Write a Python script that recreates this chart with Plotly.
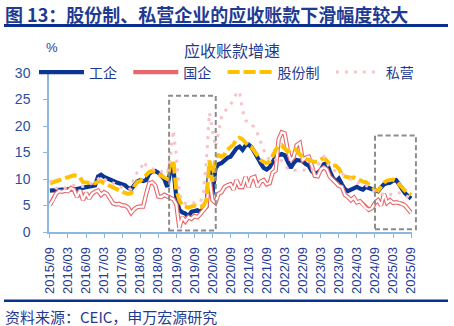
import plotly.graph_objects as go
import pandas as pd

months = pd.date_range("2015-09-01", "2025-09-01", freq="MS").strftime("%Y/%m").tolist()
tick_labels = months[::6]

gongqi = [7.8, 7.9, 7.9, 8.0, 8.0, 8.0, 8.1, 8.1, 8.0, 8.1,
          8.2, 8.5, 8.5, 8.5, 8.6, 8.8,
          10.5, 10.8, 10.4, 10.1, 10.0,
          9.6, 9.4, 9.2, 9.0, 8.8, 8.3, 8.1,
          8.8, 9.5, 9.8, 9.6, 9.8,
          11.0, 11.4, 11.5, 11.2, 10.5, 10.0, 8.5,
          11.5, 12.1, 6.5, 4.2, 3.7, 3.5, 2.9, 3.8, 4.0, 4.1, 3.8, 4.3, 4.8,
          12.3, 7.0, 12.0, 12.8, 13.0, 13.5, 14.0, 14.2,
          15.2, 15.8, 16.1, 15.5, 16.3, 16.5, 16.0, 14.8, 14.0, 13.0,
          12.1, 11.8, 12.2, 13.2, 14.2, 14.5, 14.7, 14.5, 13.2, 12.1,
          13.0, 13.6, 13.5, 13.4, 12.8, 12.5, 11.5, 11.0, 11.2, 11.7,
          12.8, 13.0, 11.5, 10.2, 9.5, 10.1, 9.0, 8.1, 7.7, 8.0,
          8.3, 8.5, 8.2, 8.0, 8.5, 8.3, 8.0, 8.0, 7.7, 8.4,
          9.0, 9.2, 9.3, 9.7, 9.8, 9.0, 8.0, 7.3, 6.8, 6.3]

guoqi = [5.1, 6.0, 7.2, 7.7, 7.6, 7.8, 7.7, 8.3, 8.0, 6.6,
         7.9, 6.0, 7.4, 6.3, 7.2, 7.6, 7.8, 7.0, 7.5, 7.2,
         6.3, 5.4, 5.2, 5.3, 5.0, 5.0, 4.6, 3.6, 4.3, 4.7,
         4.8, 4.8, 7.2, 9.2, 9.4, 8.8, 6.7, 6.6, 7.0, 6.7,
         6.5, 6.2, 5.2, 0.8, 2.8, 2.0, 2.8, 2.5, 3.0, 2.8,
         3.4, 4.2, 4.8, 10.2, 6.0, 5.5, 7.2, 7.5, 8.5, 8.8,
         9.0, 8.0, 9.8, 8.5, 8.5, 10.4, 8.5, 10.2, 10.4, 8.5,
         9.5, 9.8, 9.0, 9.2, 11.2, 11.6, 17.5, 18.8, 18.6, 15.5,
         13.5, 14.2, 16.4, 16.8, 13.6, 14.0, 14.2, 12.5, 10.6, 10.5,
         11.8, 12.2, 11.8, 10.4, 9.8, 9.3, 8.7, 8.5, 7.0, 6.6,
         6.0, 6.5, 5.6, 5.8, 5.2, 4.5, 4.2, 4.5, 5.5, 6.0,
         5.0, 7.2, 5.5, 6.0, 5.5, 5.6, 5.5, 5.3, 5.0, 4.3, 3.6]

gufen = [9.2, 9.4, 9.6, 9.8, 10.0, 10.2, 10.4, 10.6, 10.7, 10.6,
         10.3, 9.4, 9.3, 9.3, 9.3, 9.2, 9.5, 9.6, 9.2, 8.9,
         8.8, 8.5, 8.2, 7.9, 7.6, 7.4, 7.2, 7.3, 8.6, 9.4,
         9.6, 10.2, 10.8, 11.3, 11.5, 11.3, 10.9, 10.6, 10.4, 10.0,
         12.8, 13.6, 8.0, 6.0, 5.0, 4.8, 4.6, 4.8, 5.0, 4.8,
         4.7, 5.0, 6.0, 13.5, 9.5, 14.0, 14.5, 14.2, 14.6, 15.5,
         16.1, 16.5, 17.5, 17.8, 17.5, 16.8, 16.2, 16.0, 15.2, 14.2,
         13.6, 13.2, 13.0, 13.3, 14.5, 15.5, 16.2, 16.4, 15.8, 15.2,
         15.5, 15.8, 15.4, 14.6, 14.0, 13.8, 13.6, 13.4, 13.2, 13.3,
         13.7, 14.0, 13.4, 12.8, 12.6, 12.5, 12.0, 10.8, 10.5, 10.3,
         10.2, 10.3, 10.0, 9.6, 9.5, 9.4, 8.9, 8.3, 8.0, 7.8,
         8.6, 9.3, 9.7, 9.8, 9.9, 9.6, 8.9, 8.4, 7.8, 7.5, 7.0]

siying = [9.8, 9.0, 8.3, 8.1, 8.1, 8.3, 8.5, 8.6, 8.8, 8.7,
          8.6, 8.6, 8.7, 9.0, 9.2, 9.4, 10.0, 10.5, 10.0, 9.6,
          9.5, 9.3, 9.0, 8.7, 8.4, 8.2, 8.0, 8.2, 10.5, 11.2,
          11.5, 13.3, 12.6, 12.3, 12.0, 11.7, 11.8, 11.4, 11.2, 11.0,
          14.0, 19.2, 14.5, 7.5, 5.6, 5.4, 5.2, 5.3, 5.5, 5.4,
          5.6, 7.5, 13.6, 22.5, 19.0, 16.0, 18.6, 21.7, 22.7, 23.3,
          24.0, 25.0, 26.2, 26.5, 23.0, 21.1, 20.6, 20.5, 19.5, 18.5,
          17.0, 15.5, 14.5, 13.5, 13.3, 13.6, 14.2, 13.5, 12.6, 12.0,
          11.7, 11.6, 11.7, 11.8, 11.7, 11.7, 11.5, 11.6, 12.3, 12.5,
          13.5, 14.2, 13.0, 12.2, 11.7, 11.5, 11.3, 11.1, 10.5, 10.2,
          10.0, 9.7, 9.5, 9.0, 8.9, 8.8, 8.5, 7.9, 7.5, 7.3,
          7.2, 7.1, 7.3, 7.2, 7.0, 7.2, 7.4, 7.2, 6.9, 6.6, 6.4]

# highlighted periods (category index range, y range)
box_periods = [(39.6, 55.1, 0.3, 25.7), (108.0, 121.6, 0.5, 18.2)]

W, H = 454, 326
ML, MR, MT, MB = 49, 42, 73, 94
PW, PH = W - ML - MR, H - MT - MB
XR = [-0.3, 120.3]
YR = [0, 30]

def px2x(px):
    return (px - ML) / PW

def py2y(py):
    return (H - MB - py) / PH

def idx2x(i):
    return (i - XR[0]) / (XR[1] - XR[0])

def val2y(v):
    return (v - YR[0]) / (YR[1] - YR[0])

DARK = "#1f3a93"
AXIS = "#8db6e2"
FONT = "Liberation Sans, Noto Sans CJK SC, sans-serif"
PAD = "\u00a0\u00a0"

fig = go.Figure()
fig.add_trace(go.Scatter(x=months, y=gongqi, name="工企" + PAD, mode="lines",
                         line=dict(color="#0b3592", width=4.2)))
fig.add_trace(go.Scatter(x=months, y=guoqi, name="国企" + PAD, mode="lines",
                         line=dict(color="#e8676d", width=4.4)))
fig.add_trace(go.Scatter(x=months, y=guoqi, name="国企", mode="lines", showlegend=False,
                         line=dict(color="white", width=2.2)))
fig.add_trace(go.Scatter(x=months, y=gufen, name="股份制" + PAD, mode="lines",
                         line=dict(color="#ffc000", width=4, dash="12px,4px")))
fig.add_trace(go.Scatter(x=months, y=siying, name="私营", mode="lines",
                         line=dict(color="#f6c4c8", width=3, dash="3px,6px")))

shapes = []
for x0, x1, y0, y1 in box_periods:
    shapes.append(dict(type="rect", xref="paper", yref="paper",
                       x0=idx2x(x0), x1=idx2x(x1), y0=val2y(y0), y1=val2y(y1),
                       line=dict(color="#8c8c8c", width=2, dash="5px,3px"),
                       fillcolor="rgba(0,0,0,0)"))
shapes.append(dict(type="line", xref="paper", yref="paper",
                   x0=px2x(4), x1=px2x(448), y0=py2y(25.5), y1=py2y(25.5),
                   line=dict(color="#0a2f8f", width=3)))
shapes.append(dict(type="line", xref="paper", yref="paper",
                   x0=px2x(4), x1=px2x(448), y0=py2y(300.8), y1=py2y(300.8),
                   line=dict(color="#0a2f8f", width=2.5)))

annotations = [
    dict(text="<b>图 13：股份制、私营企业的应收账款下滑幅度较大</b>", xref="paper", yref="paper",
         x=px2x(3), y=py2y(14), xanchor="left", yanchor="middle", showarrow=False,
         font=dict(size=18, color=DARK, family="Noto Sans CJK SC, Liberation Sans")),
    dict(text="%", xref="paper", yref="paper", x=px2x(52), y=py2y(47),
         xanchor="center", yanchor="middle", showarrow=False,
         font=dict(size=13, color=DARK, family=FONT)),
    dict(text="应收账款增速", xref="paper", yref="paper", x=px2x(232), y=py2y(50),
         xanchor="center", yanchor="middle", showarrow=False,
         font=dict(size=16, color=DARK, family="Noto Sans CJK SC")),
    dict(text="资料来源：CEIC，申万宏源研究", xref="paper", yref="paper",
         x=px2x(3), y=py2y(316), xanchor="left", yanchor="middle", showarrow=False,
         font=dict(size=15, color=DARK, family="Noto Sans CJK SC, Liberation Sans")),
]

fig.update_layout(
    width=W, height=H, margin=dict(l=ML, r=MR, t=MT, b=MB),
    paper_bgcolor="white", plot_bgcolor="white",
    font=dict(family=FONT, color=DARK),
    shapes=shapes, annotations=annotations,
    legend=dict(orientation="h", x=px2x(34), y=py2y(72.5), xanchor="left", yanchor="middle",
                bgcolor="rgba(0,0,0,0)", font=dict(size=14, color=DARK, family="Noto Sans CJK SC"),
                itemwidth=45, tracegroupgap=0, itemclick=False),
    showlegend=True,
)
fig.update_xaxes(type="category", range=XR, tickmode="array", tickvals=tick_labels,
                 ticktext=tick_labels, tickangle=-90, ticks="outside", ticklen=4,
                 tickcolor=AXIS, showline=True, linecolor=AXIS, linewidth=1.5,
                 showgrid=False, tickfont=dict(size=13, color=DARK, family=FONT),
                 ticklabelstandoff=4)
fig.update_yaxes(range=YR, dtick=5, ticks="outside", ticklen=4, tickcolor=AXIS,
                 showline=True, linecolor=AXIS, linewidth=1.5, showgrid=False,
                 zeroline=False, tickfont=dict(size=14, color="#2a4fa0", family=FONT),
                 ticklabelstandoff=10)

fig.write_html("out.html")
